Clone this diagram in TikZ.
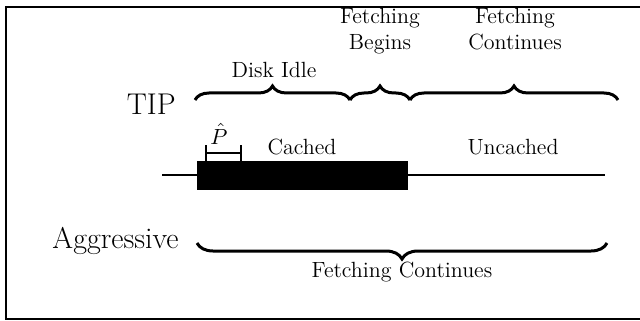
\documentclass[tikz,border=0pt]{standalone}
\usetikzlibrary{decorations.pathreplacing}
\begin{document}
\begin{tikzpicture}[x=0.5pt,y=-0.5pt,
  bracestyle/.style={decorate,decoration={brace,amplitude=7pt},line width=1.5pt},
  lowbrace/.style={decorate,decoration={brace,mirror,amplitude=8pt},line width=1.5pt},
  lbl/.style={font=\fontsize{11}{13}\selectfont,inner sep=0pt,align=center},
  biglbl/.style={font=\fontsize{15}{18}\selectfont,inner sep=0pt}]
\useasboundingbox (0,0) rectangle (640,320);
\draw[line width=1pt] (6,7) rectangle (641,319);

% row labels
\node[biglbl,anchor=base east] (tip) at (176,115) {TIP};
\node[biglbl,anchor=base east] (agg) at (179,248) {Aggressive};

% TIP phases
\coordinate (t0) at (195,100);
\coordinate (t1) at (350,100);
\coordinate (t2) at (410,100);
\coordinate (t3) at (618,100);
\draw[bracestyle] (t0) -- (t1);
\draw[bracestyle] (t1) -- (t2);
\draw[bracestyle] (t2) -- (t3);
\node[lbl,anchor=base] (idle) at (274,78) {Disk Idle};
\node[lbl,anchor=base] (begins) at (380,50) {Fetching\\[0pt]Begins};
\node[lbl,anchor=base] (cont) at (515,50) {Fetching\\[0pt]Continues};

% timeline with cached region
\coordinate (l0) at (162,175);
\coordinate (l1) at (605,175);
\draw[line width=1pt] (l0) -- (l1);
\fill (197,161) rectangle (408,190);
\node[lbl,anchor=base] (cached) at (302,155) {Cached};
\node[lbl,anchor=base] (uncached) at (513,155) {Uncached};

% prefetch interval P-hat
\coordinate (p0) at (206,153);
\coordinate (p1) at (241,153);
\draw[line width=1pt] (p0) -- (p1);
\draw[line width=1pt] ([yshift=-5]p0) -- ([yshift=4]p0);
\draw[line width=1pt] ([yshift=-5]p1) -- ([yshift=4]p1);
\node[lbl,anchor=base] (phat) at (219,144) {$\hat{P}$};

% Aggressive phase
\coordinate (a0) at (197,243);
\coordinate (a1) at (607,243);
\draw[lowbrace] (a0) -- (a1);
\node[lbl,anchor=base] (acont) at (402,277) {Fetching Continues};
\end{tikzpicture}
\end{document}
